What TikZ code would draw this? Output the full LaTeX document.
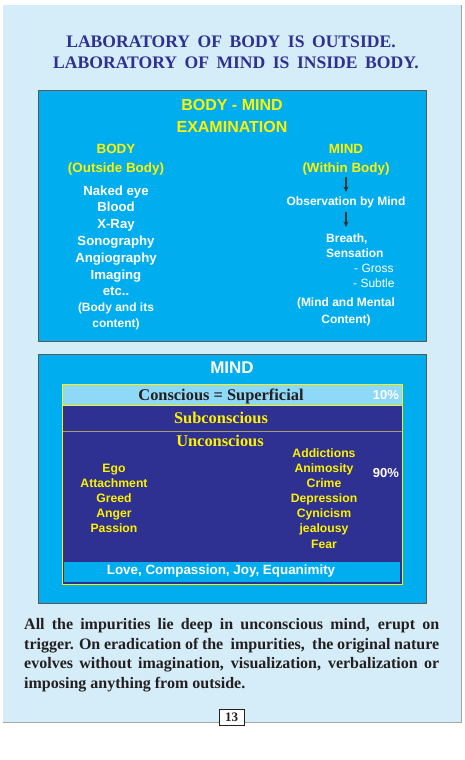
\documentclass[tikz,border=0pt]{standalone}
\usepackage{fontspec}
\setmainfont{Liberation Serif}
\setsansfont{Liberation Sans}
\usetikzlibrary{arrows.meta}
\definecolor{pagebg}{HTML}{D5EDF9}
\definecolor{cyanp}{HTML}{00AEEF}
\definecolor{darkblue}{HTML}{2E3192}
\definecolor{lightband}{HTML}{8ED8F8}
\definecolor{yel}{HTML}{FFF200}
\definecolor{ink}{HTML}{231F20}
\definecolor{tan}{HTML}{A89F70}
\newcommand\tsp{\hspace{7.5pt}}
\begin{document}
\begin{tikzpicture}[x=1pt,y=-1pt,
  panel/.style={draw=black!65,line width=0.8pt,fill=cyanp},
  bl/.style={anchor=base,yshift=-#1},
  yhead/.style={font=\sffamily\bfseries\fontsize{13.4}{15}\selectfont,text=yel,inner sep=0pt,bl=5pt},
  wlist/.style={font=\sffamily\bfseries\fontsize{13.2}{15}\selectfont,text=white,inner sep=0pt,bl=4.8pt},
  wsmall/.style={font=\sffamily\bfseries\fontsize{12}{15}\selectfont,text=white,inner sep=0pt,bl=4.4pt},
  wthin/.style={font=\sffamily\fontsize{12}{15}\selectfont,text=white,inner sep=0pt,bl=4.4pt},
  ylist/.style={font=\sffamily\bfseries\fontsize{12.2}{15}\selectfont,text=yel,inner sep=0pt,bl=4.5pt},
  serifhead/.style={font=\bfseries\fontsize{16.4}{18}\selectfont,inner sep=0pt,bl=5.6pt},
  darr/.style={-{Stealth[length=5.5pt,width=5pt]},line width=1.2pt,draw=black!80}]
\useasboundingbox (0,0) rectangle (465,760);
\fill[white] (0,0) rectangle (465,760);
% page
\fill[pagebg] (3,5) rectangle (461,722);
\draw[black!35,line width=1pt] (3,722) -- (461,722) -- (461,5);
% title
\node[font=\bfseries\fontsize{17.6}{22}\selectfont,text=darkblue,inner sep=0pt,anchor=base] (t1) at (231,48) {LABORATORY\tsp OF\tsp BODY\tsp IS\tsp OUTSIDE.};
\node[font=\bfseries\fontsize{17.6}{22}\selectfont,text=darkblue,inner sep=0pt,anchor=base] (t2) at (236,69) {LABORATORY\tsp OF\tsp MIND\tsp IS\tsp INSIDE\tsp BODY.};
% top panel
\draw[panel] (38,90) rectangle (426,341);
\node[font=\sffamily\bfseries\fontsize{16}{18}\selectfont,text=yel,inner sep=0pt,bl=5.8pt] (bm1) at (232,105) {BODY - MIND};
\node[font=\sffamily\bfseries\fontsize{16}{18}\selectfont,text=yel,inner sep=0pt,bl=5.8pt] (bm2) at (232,127) {EXAMINATION};
\node[yhead] (body) at (116,148) {BODY};
\node[yhead] (outb) at (116,167) {(Outside Body)};
\node[wlist] (l1) at (116,191) {Naked eye};
\node[wlist] (l2) at (116,207) {Blood};
\node[wlist] (l3) at (116,224) {X-Ray};
\node[wlist] (l4) at (116,241) {Sonography};
\node[wlist] (l5) at (116,258) {Angiography};
\node[wlist] (l6) at (116,275) {Imaging};
\node[wlist] (l7) at (116,291) {etc..};
\node[wsmall] (l8) at (116,307) {(Body and its};
\node[wsmall] (l9) at (116,323) {content)};
\node[yhead] (mind) at (346,148) {MIND};
\node[yhead] (withb) at (346,167) {(Within Body)};
\node[wsmall] (obs) at (346,201) {Observation by Mind};
\node[wsmall,anchor=base west] (br) at (326,238) {Breath,};
\node[wsmall,anchor=base west] (sens) at (326,253) {Sensation};
\node[wthin,anchor=base west] (gross) at (354,268) {- Gross};
\node[wthin,anchor=base west] (subtle) at (353,283) {- Subtle};
\node[wsmall] (mmc1) at (346,302) {(Mind and Mental};
\node[wsmall] (mmc2) at (346,319) {Content)};
\draw[darr] (346,177) -- (346,192);
\draw[darr] (346,212) -- (346,227);
% bottom panel
\draw[panel] (38,354) rectangle (426,603);
\node[font=\sffamily\bfseries\fontsize{17}{19}\selectfont,text=white,inner sep=0pt,bl=6pt] (mindh) at (232,367) {MIND};
\fill[darkblue] (62,384) rectangle (402,584);
\fill[lightband] (62,384) rectangle (402,405);
\fill[cyanp] (64,562) rectangle (400,582);
\draw[tan,line width=1pt] (62,431) -- (402,431);
\draw[yel,line width=0.8pt] (62,405) -- (402,405);
\draw[yel,line width=0.8pt] (62,384) rectangle (402,584);
\node[serifhead,text=ink] (cons) at (221,395) {Conscious = Superficial};
\node[font=\sffamily\bfseries\fontsize{13}{15}\selectfont,text=white,inner sep=0pt,bl=4.7pt] (p10) at (386,395) {10\%};
\node[serifhead,text=yel] (sub) at (221,418) {Subconscious};
\node[serifhead,text=yel] (unc) at (220,441) {Unconscious};
\node[ylist] (e1) at (114,468) {Ego};
\node[ylist] (e2) at (114,483) {Attachment};
\node[ylist] (e3) at (114,498) {Greed};
\node[ylist] (e4) at (114,513) {Anger};
\node[ylist] (e5) at (114,528) {Passion};
\node[ylist] (r1) at (324,453) {Addictions};
\node[ylist] (r2) at (324,468) {Animosity};
\node[ylist] (r3) at (324,483) {Crime};
\node[ylist] (r4) at (324,498) {Depression};
\node[ylist] (r5) at (324,513) {Cynicism};
\node[ylist] (r6) at (324,528) {jealousy};
\node[ylist] (r7) at (324,544) {Fear};
\node[font=\sffamily\bfseries\fontsize{13}{15}\selectfont,text=white,inner sep=0pt,bl=4.7pt] (p90) at (386,473) {90\%};
\node[font=\sffamily\bfseries\fontsize{13.4}{15}\selectfont,text=white,inner sep=0pt,bl=4.8pt] (love) at (221,570) {Love, Compassion, Joy, Equanimity};
% paragraph
\node[font=\bfseries\fontsize{16}{19.7}\selectfont,text=ink,inner sep=0pt,text width=415pt,align=justify,anchor=north west] (para) at (24,618)
{\hyphenpenalty=10000 All the impurities lie deep in unconscious mind, erupt on\linebreak trigger. On eradication of the\ \ impurities,\ \ the original nature\linebreak evolves without imagination, visualization, verbalization or\linebreak imposing anything from outside.};
% page number
\node[draw=ink,line width=0.8pt,fill=white,font=\fontsize{13}{14}\selectfont\bfseries,text=ink,minimum width=25pt,minimum height=16pt,inner sep=0pt] (pg) at (231.5,717) {13};
\end{tikzpicture}
\end{document}
